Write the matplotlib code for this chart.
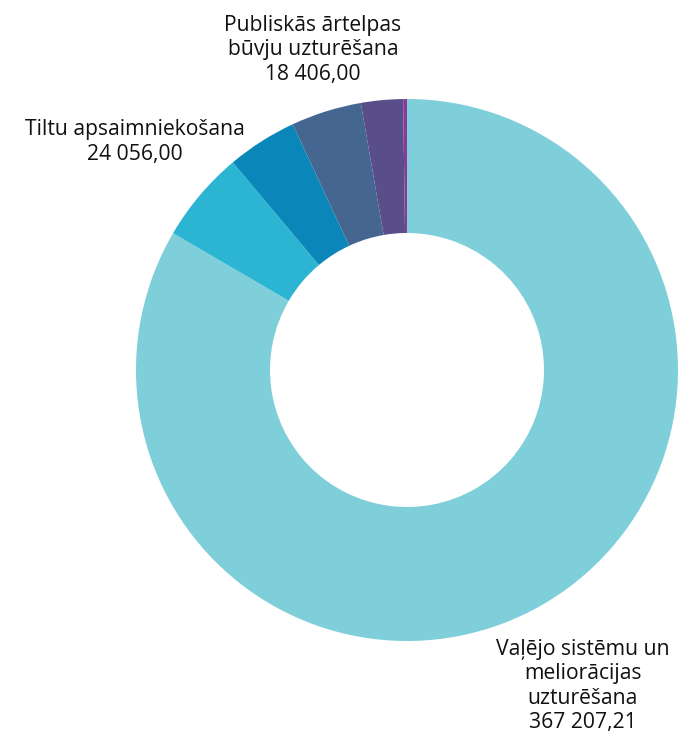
import matplotlib.pyplot as plt

plt.rcParams['font.family'] = ['Open Sans', 'DejaVu Sans']

# slices, clockwise from 12 o'clock
names = ["Vaļējo sistēmu un\nmeliorācijas\nuzturēšana", "Tiltu apsaimniekošana",
         "Publiskās ārtelpas\nbūvju uzturēšana", "", "", ""]
values = [367207.21, 24056.00, 18406.00, 18500.00, 11000.00, 1000.00]
colors = ["#7ECFD9", "#2CB5D2", "#0A87B8", "#456690", "#5A4E8A", "#8A3A96"]

def fmt(v):
    s = "{:,.2f}".format(v)
    return s.replace(",", " ").replace(".", ",")

W, H = 684, 738
fig = plt.figure(figsize=(W / 100, H / 100), dpi=100)
cx, cy, r = 407, 370, 271
ax = fig.add_axes([(cx - r) / W, (H - cy - r) / H, 2 * r / W, 2 * r / H])
ax.pie(values, colors=colors, startangle=90, counterclock=False, radius=1,
       wedgeprops=dict(width=(271 - 137) / 271, linewidth=0))
ax.set_xlim(-1, 1)
ax.set_ylim(-1, 1)
ax.set_aspect('equal')
ax.axis('off')

# labels (pixel positions of the text centres)
label_pos = {0: (583, 686), 1: (135, 142), 2: (313, 50)}
for i, (x, y) in label_pos.items():
    fig.text(x / W, 1 - y / H, names[i] + "\n" + fmt(values[i]), ha='center', va='center',
             fontsize=15.2, color='#111111', linespacing=1.2)

fig.savefig("out.png", dpi=100)
